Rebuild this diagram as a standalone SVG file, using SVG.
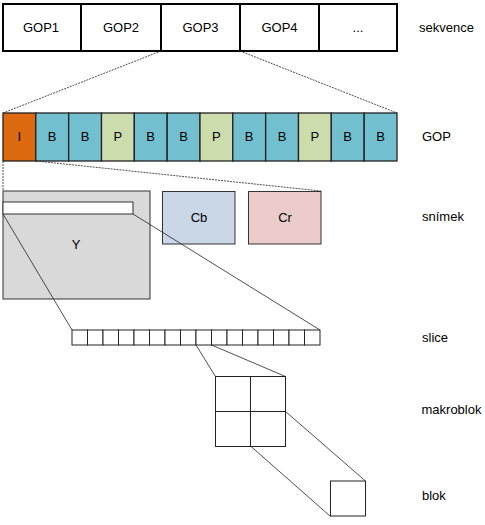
<svg xmlns="http://www.w3.org/2000/svg" width="485" height="525" viewBox="0 0 485 525">
<style>
text{font-family:"Liberation Sans",Arial,sans-serif;fill:#000}
.c{text-anchor:middle;font-size:13px}
.lbl{font-size:13px}
.seq{fill:#fff;stroke:#000;stroke-width:2}
.f{stroke:#222;stroke-width:1.3}
.I{fill:#dd6a11}.B{fill:#72bfd0}.P{fill:#cddcac}
.pl{stroke:#333;stroke-width:1}
.cell{fill:#fff;stroke:#222;stroke-width:1}
.conn{fill:none;stroke:#222;stroke-width:0.8}
.dash{stroke-dasharray:2,1}
</style>
<g id="sequence">
<rect class="seq" x="3" y="4" width="78" height="47"/>
<rect class="seq" x="81" y="4" width="80" height="47"/>
<rect class="seq" x="161" y="4" width="79" height="47"/>
<rect class="seq" x="240" y="4" width="79" height="47"/>
<rect class="seq" x="319" y="4" width="78" height="47"/>
<text class="c" x="41" y="32">GOP1</text>
<text class="c" x="121" y="32">GOP2</text>
<text class="c" x="200.5" y="32">GOP3</text>
<text class="c" x="279.5" y="32">GOP4</text>
<text class="c" x="358" y="32">...</text>
</g>
<g id="gop">
<rect class="f I" x="3" y="113" width="32.8" height="48"/>
<rect class="f B" x="35.8" y="113" width="32.8" height="48"/>
<rect class="f B" x="68.7" y="113" width="32.8" height="48"/>
<rect class="f P" x="101.5" y="113" width="32.8" height="48"/>
<rect class="f B" x="134.3" y="113" width="32.8" height="48"/>
<rect class="f B" x="167.2" y="113" width="32.8" height="48"/>
<rect class="f P" x="200" y="113" width="32.8" height="48"/>
<rect class="f B" x="232.8" y="113" width="32.8" height="48"/>
<rect class="f B" x="265.7" y="113" width="32.8" height="48"/>
<rect class="f P" x="298.5" y="113" width="32.8" height="48"/>
<rect class="f B" x="331.3" y="113" width="32.8" height="48"/>
<rect class="f B" x="364.2" y="113" width="32.8" height="48"/>
<text class="c" x="19.4" y="141">I</text>
<text class="c" x="52.2" y="141">B</text>
<text class="c" x="85.1" y="141">B</text>
<text class="c" x="117.9" y="141">P</text>
<text class="c" x="150.7" y="141">B</text>
<text class="c" x="183.6" y="141">B</text>
<text class="c" x="216.4" y="141">P</text>
<text class="c" x="249.2" y="141">B</text>
<text class="c" x="282.1" y="141">B</text>
<text class="c" x="314.9" y="141">P</text>
<text class="c" x="347.7" y="141">B</text>
<text class="c" x="380.6" y="141">B</text>
</g>
<g id="frame">
<rect class="pl" x="3" y="191" width="147" height="108" fill="#d9d9d9"/>
<rect class="pl" x="3" y="202" width="130" height="12" fill="#fff"/>
<text class="c" x="76" y="249">Y</text>
<rect class="pl" x="162.5" y="191.5" width="72.5" height="52.5" fill="#c9d7e6"/>
<text class="c" x="199" y="222">Cb</text>
<rect class="pl" x="248.5" y="191.5" width="72.5" height="52.5" fill="#eccbcb"/>
<text class="c" x="285" y="222">Cr</text>
</g>
<g id="slice">
<rect class="cell" x="72" y="330" width="15.5" height="15"/>
<rect class="cell" x="87.5" y="330" width="15.5" height="15"/>
<rect class="cell" x="103" y="330" width="15.5" height="15"/>
<rect class="cell" x="118.5" y="330" width="15.5" height="15"/>
<rect class="cell" x="134" y="330" width="15.5" height="15"/>
<rect class="cell" x="149.5" y="330" width="15.5" height="15"/>
<rect class="cell" x="165" y="330" width="15.5" height="15"/>
<rect class="cell" x="180.5" y="330" width="15.5" height="15"/>
<rect class="cell" x="196" y="330" width="15.5" height="15"/>
<rect class="cell" x="211.5" y="330" width="15.5" height="15"/>
<rect class="cell" x="227" y="330" width="15.5" height="15"/>
<rect class="cell" x="242.5" y="330" width="15.5" height="15"/>
<rect class="cell" x="258" y="330" width="15.5" height="15"/>
<rect class="cell" x="273.5" y="330" width="15.5" height="15"/>
<rect class="cell" x="289" y="330" width="15.5" height="15"/>
<rect class="cell" x="304.5" y="330" width="15.5" height="15"/>
</g>
<g id="macroblock">
<rect class="cell" x="215.5" y="376.5" width="35" height="35"/>
<rect class="cell" x="250.5" y="376.5" width="35" height="35"/>
<rect class="cell" x="215.5" y="411.5" width="35" height="35"/>
<rect class="cell" x="250.5" y="411.5" width="35" height="35"/>
</g>
<g id="block">
<rect class="cell" x="330.5" y="481" width="35" height="35"/>
</g>
<g id="labels">
<text class="lbl" x="419" y="32">sekvence</text>
<text class="lbl" x="422" y="141">GOP</text>
<text class="lbl" x="422" y="221">snímek</text>
<text class="lbl" x="422" y="342">slice</text>
<text class="lbl" x="421.5" y="414">makroblok</text>
<text class="lbl" x="422" y="500">blok</text>
</g>
<g id="connectors">
<line class="conn dash" x1="161" y1="51" x2="3" y2="113"/>
<line class="conn dash" x1="240" y1="51" x2="397" y2="113"/>
<line class="conn dash" x1="3" y1="161" x2="3" y2="191"/>
<line class="conn dash" x1="36" y1="161" x2="321" y2="191"/>
<line class="conn" x1="3" y1="214" x2="72" y2="330"/>
<line class="conn" x1="133" y1="214" x2="320" y2="330"/>
<line class="conn" x1="196" y1="345" x2="215.5" y2="376.5"/>
<line class="conn" x1="211.5" y1="345" x2="285.5" y2="376.5"/>
<line class="conn" x1="285.5" y1="411.5" x2="365.5" y2="481"/>
<line class="conn" x1="250.5" y1="446" x2="330" y2="516"/>
</g>
</svg>
